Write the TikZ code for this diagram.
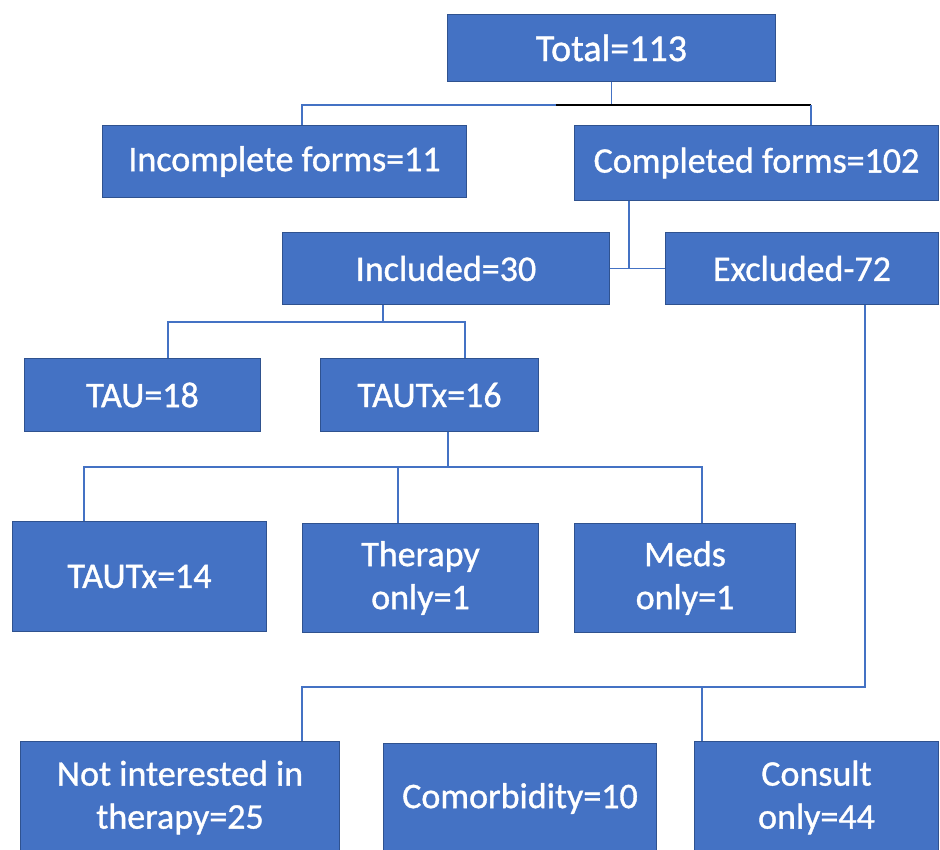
\documentclass[tikz,border=0pt]{standalone}
\usepackage{fontspec}
\setmainfont{Carlito}[FakeBold=1]
\definecolor{boxfill}{HTML}{4472C4}
\definecolor{boxedge}{HTML}{2F528F}
\begin{document}
\begin{tikzpicture}[x=1pt,y=-1pt,
  box/.style={draw=boxedge, line width=1pt, fill=boxfill, text=white, inner sep=0pt,
    anchor=north west, align=center, font=\fontsize{36}{43}\selectfont},
  conn/.style={draw=boxfill, line width=1.6pt},
  blk/.style={draw=black, line width=1.6pt}]
\useasboundingbox (0,0) rectangle (940,849);
\fill[white] (0,0) rectangle (940,849);
\node[box, minimum width=328pt, minimum height=67pt, font=\fontsize{38}{45}\selectfont] (total) at (447,14) {Total=113};
\node[box, minimum width=364pt, minimum height=72pt] (inc) at (102,125) {Incomplete forms=11};
\node[box, minimum width=364pt, minimum height=75pt] (comp) at (574,125) {Completed forms=102};
\node[box, minimum width=327pt, minimum height=72pt] (incl) at (282,232) {Included=30};
\node[box, minimum width=273pt, minimum height=72pt] (excl) at (665,232) {Excluded-72};
\node[box, minimum width=236pt, minimum height=73pt] (tau) at (24,358) {TAU=18};
\node[box, minimum width=218pt, minimum height=73pt] (taux) at (320,358) {TAUTx=16};
\node[box, minimum width=254pt, minimum height=110pt] (tx14) at (12,521) {TAUTx=14};
\node[box, minimum width=236pt, minimum height=109pt] (ther) at (302,523) {Therapy\\only=1};
\node[box, minimum width=221pt, minimum height=109pt] (meds) at (574,523) {Meds\\only=1};
\node[box, minimum width=319pt, minimum height=112pt] (ni) at (20,741) {Not interested in\\therapy=25};
\node[box, minimum width=273pt, minimum height=110pt] (como) at (383,743) {Comorbidity=10};
\node[box, minimum width=244pt, minimum height=112pt] (cons) at (694,741) {Consult\\only=44};
% junction coordinates
\coordinate (b1) at (302,105);
\coordinate (b2) at (556,105);
\coordinate (b3) at (811,105);
\coordinate (c1) at (629,268);
\coordinate (d0) at (383,322);
\coordinate (d1) at (168,322);
\coordinate (d2) at (465,322);
\coordinate (e0) at (448,467);
\coordinate (e1) at (84,467);
\coordinate (e2) at (398,467);
\coordinate (e3) at (702,467);
\coordinate (f0) at (865,687);
\coordinate (f1) at (302,687);
\coordinate (f2) at (702,687);
% connectors
\draw[conn] (total.south) -- (total.south |- b1);
\draw[conn] (inc.north -| b1) -- (b1) -- (b2);
\draw[blk] (b2) -- (b3);
\draw[conn] (b3) -- (comp.north -| b3);
\draw[conn] (comp.south -| c1) -- (c1);
\draw[conn] (incl.east) -- (excl.west);
\draw[conn] (incl.south -| d0) -- (d0);
\draw[conn] (tau.north -| d1) -- (d1) -- (d2) -- (taux.north -| d2);
\draw[conn] (taux.south -| e0) -- (e0);
\draw[conn] (tx14.north -| e1) -- (e1) -- (e3) -- (meds.north -| e3);
\draw[conn] (e2) -- (ther.north -| e2);
\draw[conn] (excl.south -| f0) -- (f0) -- (f1) -- (ni.north -| f1);
\draw[conn] (f2) -- (cons.north -| f2);
\end{tikzpicture}
\end{document}
